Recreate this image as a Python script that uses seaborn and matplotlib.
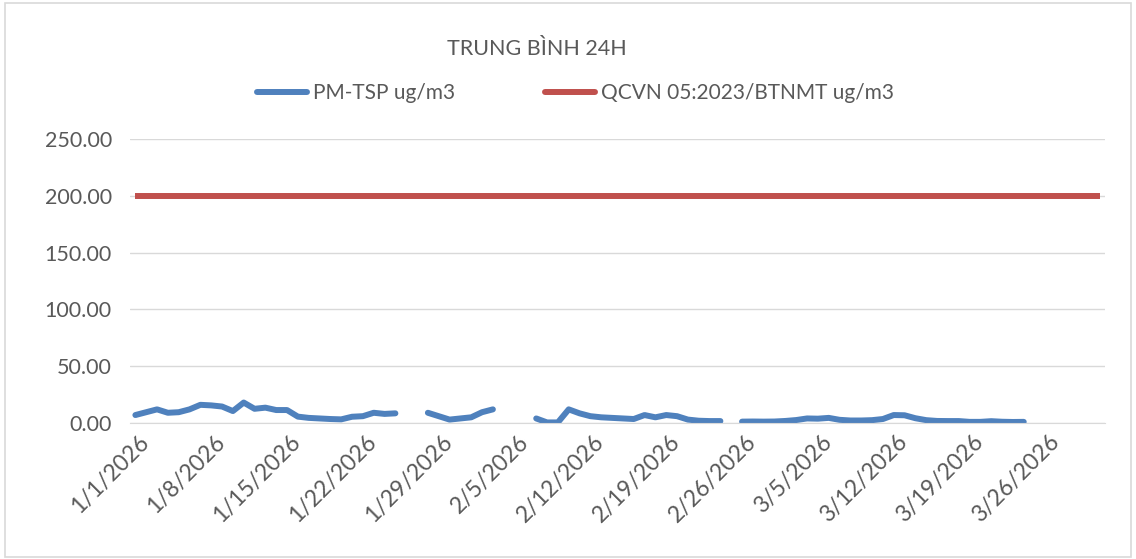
import numpy as np
import pandas as pd
import matplotlib
matplotlib.use("Agg")
import matplotlib.pyplot as plt
import matplotlib.transforms as mtransforms
from matplotlib.patches import Rectangle
import seaborn as sns

# -----------------------------
# 1. DATA
# -----------------------------
start_date = "2026-01-01"
n_days = 90  # 1/1/2026 .. 3/31/2026

# PM-TSP daily average (ug/m3), NaN = no data
pm_tsp = [
    7.0, 9.5, 12.0, 9.0, 9.5, 12.0, 16.0, 15.5, 14.5, 10.5,
    18.0, 12.5, 13.5, 11.4, 11.4, 5.6, 4.5, 4.0, 3.5, 3.2,
    5.5, 6.0, 9.0, 8.0, 8.5, np.nan, np.nan, 9.0, 6.0, 3.0,
    4.0, 5.0, 9.5, 12.0, np.nan, np.nan, np.nan, 4.0, 0.5, 0.5,
    12.0, 8.5, 6.0, 5.0, 4.5, 4.0, 3.5, 7.0, 5.0, 7.0,
    6.0, 3.0, 2.0, 1.7, 1.7, np.nan, 1.2, 1.3, 1.2, 1.3,
    1.8, 2.6, 4.0, 3.8, 4.5, 2.8, 2.2, 2.2, 2.5, 3.5,
    7.0, 6.8, 4.2, 2.5, 1.8, 1.7, 1.7, 1.0, 1.0, 1.6,
    1.1, 0.9, 1.0,
]
qcvn_limit = 200.0

title_text = "TRUNG BÌNH 24H"
label_pm = "PM-TSP ug/m3"
label_qcvn = "QCVN 05:2023/BTNMT ug/m3"
y_ticks = [0, 50, 100, 150, 200, 250]

dates = pd.date_range(start_date, periods=n_days, freq="D")

df_pm = pd.DataFrame({"date": dates[:len(pm_tsp)], "value": pm_tsp})
# segment id so gaps stay as gaps
df_pm["seg"] = df_pm["value"].isna().cumsum()
df_pm = df_pm.dropna()

df_qcvn = pd.DataFrame({"date": dates, "value": qcvn_limit})

# -----------------------------
# 2. STYLE
# -----------------------------
sns.set_style("white")
plt.rcParams["font.family"] = ["Lato", "DejaVu Sans"]

blue = "#4F81BD"
red = "#C0504D"
grid_c = "#D9D9D9"
text_c = "#595959"

fig = plt.figure(figsize=(11.36, 5.59), dpi=100)
ax = fig.add_axes([0.1144, 0.2433, 0.8583, 0.508])

# outer chart border
fig.patches.append(Rectangle((0.004, 0.004), 0.992, 0.990, transform=fig.transFigure,
                             fill=False, edgecolor=grid_c, linewidth=1.2))

# -----------------------------
# 3. PLOT
# -----------------------------
sns.lineplot(data=df_pm, x="date", y="value", units="seg", estimator=None,
             color=blue, linewidth=4.3, ax=ax, solid_capstyle="round",
             solid_joinstyle="round")
sns.lineplot(data=df_qcvn, x="date", y="value", color=red, linewidth=4.3,
             ax=ax, solid_capstyle="butt")

ax.set_ylim(0, 250)
ax.set_yticks(y_ticks)
ax.set_yticklabels([f"{v:.2f}" for v in y_ticks], color=text_c, fontsize=15.5)
ax.grid(axis="y", color=grid_c, linewidth=1.0)
ax.set_axisbelow(True)

ax.set_xlim(dates[0] - pd.Timedelta(hours=12), dates[-1] + pd.Timedelta(hours=12))
x_ticks = dates[::7][:13]
ax.set_xticks(x_ticks)
ax.set_xticklabels([f"{d.month}/{d.day}/{d.year}" for d in x_ticks],
                   rotation=45, ha="right", rotation_mode="anchor",
                   color=text_c, fontsize=16.5)
ax.tick_params(axis="y", length=0, pad=13)
ax.tick_params(axis="x", length=0, pad=6)

# nudge the rotated date labels a little to the right, like the original
shift = mtransforms.ScaledTranslation(3 / 100, 0, fig.dpi_scale_trans)
for lbl in ax.get_xticklabels():
    lbl.set_transform(lbl.get_transform() + shift)

for s in ["top", "right", "left"]:
    ax.spines[s].set_visible(False)
ax.spines["bottom"].set_color(grid_c)
ax.set_xlabel("")
ax.set_ylabel("")

# -----------------------------
# 4. TITLE + LEGEND
# -----------------------------
fig.text(0.4725, 0.912, title_text, ha="center", va="center", fontsize=15.5, color=text_c)

handles = [
    plt.Line2D([], [], color=blue, linewidth=4.3, solid_capstyle="round"),
    plt.Line2D([], [], color=red, linewidth=4.3, solid_capstyle="round"),
]
fig.legend(handles, [label_pm, label_qcvn], loc="center", ncol=2,
           bbox_to_anchor=(0.5066, 0.833), frameon=False, fontsize=15,
           labelcolor=text_c, handlelength=2.4, handletextpad=0.3,
           columnspacing=4.3)

plt.savefig("out.png", dpi=100)
plt.close()
